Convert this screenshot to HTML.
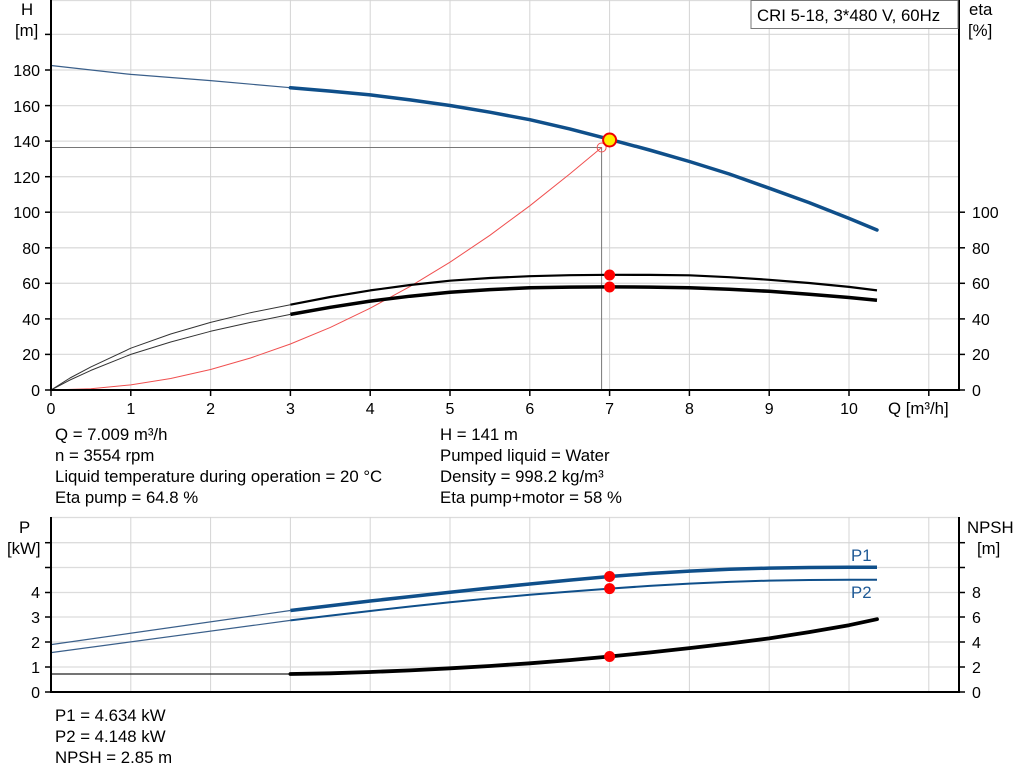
<!DOCTYPE html>
<html><head><meta charset="utf-8"><style>
body{margin:0;background:#fff;width:1024px;height:781px;overflow:hidden}
svg{display:block}
text{font-family:"Liberation Sans",Arial,sans-serif;font-size:16.8px;fill:#000}
.t text{font-size:16px}
.g{stroke:#dcdcdc;stroke-width:1.3}
.gv{stroke:#d4d4d4;stroke-width:1}
.ax{stroke:#000;stroke-width:2;fill:none}
</style></head><body>
<svg width="1024" height="781" viewBox="0 0 1024 781">
<g>
<line class="g" x1="51" x2="959" y1="354.4" y2="354.4"/>
<line class="g" x1="51" x2="959" y1="318.9" y2="318.9"/>
<line class="g" x1="51" x2="959" y1="283.3" y2="283.3"/>
<line class="g" x1="51" x2="959" y1="247.8" y2="247.8"/>
<line class="g" x1="51" x2="959" y1="212.2" y2="212.2"/>
<line class="g" x1="51" x2="959" y1="176.7" y2="176.7"/>
<line class="g" x1="51" x2="959" y1="141.1" y2="141.1"/>
<line class="g" x1="51" x2="959" y1="105.6" y2="105.6"/>
<line class="g" x1="51" x2="959" y1="70" y2="70"/>
<line class="g" x1="51" x2="959" y1="34.4" y2="34.4"/>
<line class="g" x1="51" x2="959" y1="0.5" y2="0.5"/>
<line class="gv" x1="130.8" x2="130.8" y1="0" y2="390"/>
<line class="gv" x1="210.6" x2="210.6" y1="0" y2="390"/>
<line class="gv" x1="290.4" x2="290.4" y1="0" y2="390"/>
<line class="gv" x1="370.2" x2="370.2" y1="0" y2="390"/>
<line class="gv" x1="450" x2="450" y1="0" y2="390"/>
<line class="gv" x1="529.8" x2="529.8" y1="0" y2="390"/>
<line class="gv" x1="609.6" x2="609.6" y1="0" y2="390"/>
<line class="gv" x1="689.4" x2="689.4" y1="0" y2="390"/>
<line class="gv" x1="769.2" x2="769.2" y1="0" y2="390"/>
<line class="gv" x1="849" x2="849" y1="0" y2="390"/>
<line class="gv" x1="928.8" x2="928.8" y1="0" y2="390"/>
</g>
<polyline points="51,147.5 601.6,147.5 601.6,390" fill="none" stroke="#777" stroke-width="1"/>
<polyline fill="none" stroke="#f05050" stroke-width="1" points="51,390 90.9,388.7 130.8,384.9 170.7,378.5 210.6,369.5 250.5,358 290.4,344 330.3,327.4 370.2,308.2 410.1,286.4 450,262.2 489.9,235.3 529.8,205.8 569.7,174 601.6,147.5"/>
<circle cx="601.6" cy="147.5" r="4.5" fill="none" stroke="#f05050" stroke-width="1"/>
<polyline fill="none" stroke="#3a5f8a" stroke-width="1.2" points="51,65.5 130.8,74.4 210.6,80.6 290.4,87.7"/>
<polyline fill="none" stroke="#0f4f8a" stroke-width="3.5" stroke-linecap="round" stroke-linejoin="round" points="290.4,87.7 330.3,91.1 370.2,94.9 410.1,99.9 450,105.5 489.9,112.2 529.8,119.7 569.7,128.9 609.6,139.3 649.5,150 689.4,161.5 729.3,174 769.2,188.2 809.1,202.6 849,218.4 877,230"/>
<polyline fill="none" stroke="#333" stroke-width="1" stroke-linejoin="round" points="51,390 70,378 90.9,366.9 130.8,348.2 170.7,334 210.6,322.4 250.5,312.7 290.4,304.7"/>
<polyline fill="none" stroke="#000" stroke-width="2.2" stroke-linejoin="round" points="290.4,304.7 330.3,297 370.2,290.4 410.1,285 450,280.7 489.9,278 529.8,276.2 569.7,275.2 609.6,274.8 649.5,274.9 689.4,275.3 729.3,277.2 769.2,279.8 809.1,283 849,286.9 877,290.4"/>
<polyline fill="none" stroke="#333" stroke-width="1" stroke-linejoin="round" points="51,390 70,380 90.9,370.4 130.8,354.4 170.7,342 210.6,331.3 250.5,322.4 290.4,314.4"/>
<polyline fill="none" stroke="#000" stroke-width="3.5" stroke-linejoin="round" points="290.4,314.4 330.3,307.3 370.2,301.1 410.1,296.2 450,292.2 489.9,289.6 529.8,287.8 569.7,287.1 609.6,286.9 649.5,287.1 689.4,287.8 729.3,289.3 769.2,291.3 809.1,294.2 849,297.5 877,300.2"/>
<circle cx="609.6" cy="275" r="5.5" fill="#f00"/>
<circle cx="609.6" cy="287" r="5.5" fill="#f00"/>
<circle cx="609.6" cy="140" r="6.5" fill="#ffee00" stroke="#e00" stroke-width="2"/>
<polyline class="ax" points="51,0 51,390 959,390 959,0"/>
<g stroke="#000" stroke-width="1.5">
<line x1="45" x2="51" y1="390" y2="390"/><line x1="45" x2="51" y1="354.4" y2="354.4"/><line x1="45" x2="51" y1="318.9" y2="318.9"/><line x1="45" x2="51" y1="283.3" y2="283.3"/><line x1="45" x2="51" y1="247.8" y2="247.8"/><line x1="45" x2="51" y1="212.2" y2="212.2"/><line x1="45" x2="51" y1="176.7" y2="176.7"/><line x1="45" x2="51" y1="141.1" y2="141.1"/><line x1="45" x2="51" y1="105.6" y2="105.6"/><line x1="45" x2="51" y1="70" y2="70"/><line x1="45" x2="51" y1="34.4" y2="34.4"/>
<line x1="959" x2="965" y1="390" y2="390"/><line x1="959" x2="965" y1="354.4" y2="354.4"/><line x1="959" x2="965" y1="318.9" y2="318.9"/><line x1="959" x2="965" y1="283.3" y2="283.3"/><line x1="959" x2="965" y1="247.8" y2="247.8"/><line x1="959" x2="965" y1="212.2" y2="212.2"/>
<line x1="51" x2="51" y1="390" y2="396"/><line x1="130.8" x2="130.8" y1="390" y2="396"/><line x1="210.6" x2="210.6" y1="390" y2="396"/><line x1="290.4" x2="290.4" y1="390" y2="396"/><line x1="370.2" x2="370.2" y1="390" y2="396"/><line x1="450" x2="450" y1="390" y2="396"/><line x1="529.8" x2="529.8" y1="390" y2="396"/><line x1="609.6" x2="609.6" y1="390" y2="396"/><line x1="689.4" x2="689.4" y1="390" y2="396"/><line x1="769.2" x2="769.2" y1="390" y2="396"/><line x1="849" x2="849" y1="390" y2="396"/><line x1="928.8" x2="928.8" y1="390" y2="396"/>
</g>
<g class="t">
<g text-anchor="end">
<text x="40" y="396">0</text><text x="40" y="360">20</text><text x="40" y="325">40</text><text x="40" y="289">60</text><text x="40" y="254">80</text><text x="40" y="218">100</text><text x="40" y="183">120</text><text x="40" y="147">140</text><text x="40" y="112">160</text><text x="40" y="76">180</text>
</g>
<g>
<text x="972" y="396">0</text><text x="972" y="360">20</text><text x="972" y="325">40</text><text x="972" y="289">60</text><text x="972" y="254">80</text><text x="972" y="218">100</text>
</g>
<g text-anchor="middle">
<text x="51" y="414">0</text><text x="130.8" y="414">1</text><text x="210.6" y="414">2</text><text x="290.4" y="414">3</text><text x="370.2" y="414">4</text><text x="450" y="414">5</text><text x="529.8" y="414">6</text><text x="609.6" y="414">7</text><text x="689.4" y="414">8</text><text x="769.2" y="414">9</text><text x="849" y="414">10</text>
</g>
</g>
<text x="888" y="414">Q [m³/h]</text>
<text x="21" y="15">H</text><text x="15" y="36">[m]</text>
<text x="969" y="15">eta</text><text x="968" y="36">[%]</text>
<rect x="751" y="0.5" width="207" height="28" fill="#fff" stroke="#777" stroke-width="1"/>
<text x="757" y="21">CRI 5-18, 3*480 V, 60Hz</text>
<text x="55" y="440">Q = 7.009 m³/h</text>
<text x="55" y="461">n = 3554 rpm</text>
<text x="55" y="482">Liquid temperature during operation = 20 °C</text>
<text x="55" y="503">Eta pump = 64.8 %</text>
<text x="440" y="440">H = 141 m</text>
<text x="440" y="461">Pumped liquid = Water</text>
<text x="440" y="482">Density = 998.2 kg/m³</text>
<text x="440" y="503">Eta pump+motor = 58 %</text>

<g>
<line class="g" x1="51" x2="959" y1="667" y2="667"/>
<line class="g" x1="51" x2="959" y1="642" y2="642"/>
<line class="g" x1="51" x2="959" y1="617" y2="617"/>
<line class="g" x1="51" x2="959" y1="592.5" y2="592.5"/>
<line class="g" x1="51" x2="959" y1="567.5" y2="567.5"/>
<line class="g" x1="51" x2="959" y1="542.7" y2="542.7"/>
<line class="g" x1="51" x2="959" y1="517.5" y2="517.5"/>
<line class="gv" x1="130.8" x2="130.8" y1="517" y2="692"/>
<line class="gv" x1="210.6" x2="210.6" y1="517" y2="692"/>
<line class="gv" x1="290.4" x2="290.4" y1="517" y2="692"/>
<line class="gv" x1="370.2" x2="370.2" y1="517" y2="692"/>
<line class="gv" x1="450" x2="450" y1="517" y2="692"/>
<line class="gv" x1="529.8" x2="529.8" y1="517" y2="692"/>
<line class="gv" x1="609.6" x2="609.6" y1="517" y2="692"/>
<line class="gv" x1="689.4" x2="689.4" y1="517" y2="692"/>
<line class="gv" x1="769.2" x2="769.2" y1="517" y2="692"/>
<line class="gv" x1="849" x2="849" y1="517" y2="692"/>
<line class="gv" x1="928.8" x2="928.8" y1="517" y2="692"/>
</g>
<polyline fill="none" stroke="#3a5f8a" stroke-width="1.2" points="51,644.6 290.4,610.5"/>
<polyline fill="none" stroke="#0f4f8a" stroke-width="3.5" stroke-linejoin="round" points="290.4,610.5 330.3,605.7 370.2,601 410.1,596.6 450,592.3 489.9,588 529.8,584 569.7,580.1 609.6,576.5 649.5,573.5 689.4,571.1 729.3,569.3 769.2,568.1 809.1,567.5 849,567.3 877,567.3"/>
<polyline fill="none" stroke="#3a5f8a" stroke-width="1.2" points="51,652.6 290.4,620.4"/>
<polyline fill="none" stroke="#0f4f8a" stroke-width="2" stroke-linejoin="round" points="290.4,620.4 330.3,615.6 370.2,611 410.1,606.5 450,602.3 489.9,598.4 529.8,594.8 569.7,591.6 609.6,588.6 649.5,585.9 689.4,583.6 729.3,581.9 769.2,580.6 809.1,580 849,579.8 877,579.8"/>
<polyline fill="none" stroke="#222" stroke-width="1.2" points="51,674 290.4,674"/>
<polyline fill="none" stroke="#000" stroke-width="3.8" stroke-linecap="round" stroke-linejoin="round" points="290.4,674 330.3,673.3 370.2,672 410.1,670.4 450,668.3 489.9,666 529.8,663.3 569.7,660.1 609.6,656.5 649.5,652.5 689.4,648.1 729.3,643.5 769.2,638.4 809.1,632.1 849,625.2 877,619.2"/>
<circle cx="609.6" cy="576.5" r="5.5" fill="#f00"/>
<circle cx="609.6" cy="588.6" r="5.5" fill="#f00"/>
<circle cx="609.6" cy="656.5" r="5.5" fill="#f00"/>
<text x="851" y="561" style="fill:#1f5a96">P1</text>
<text x="851" y="598" style="fill:#1f5a96">P2</text>
<polyline class="ax" points="51,517 51,692 959,692 959,517"/>
<g stroke="#000" stroke-width="1.5">
<line x1="45" x2="51" y1="692" y2="692"/><line x1="45" x2="51" y1="667" y2="667"/><line x1="45" x2="51" y1="642" y2="642"/><line x1="45" x2="51" y1="617" y2="617"/><line x1="45" x2="51" y1="592.5" y2="592.5"/><line x1="45" x2="51" y1="567.5" y2="567.5"/><line x1="45" x2="51" y1="542.7" y2="542.7"/>
<line x1="959" x2="965" y1="692" y2="692"/><line x1="959" x2="965" y1="667" y2="667"/><line x1="959" x2="965" y1="642" y2="642"/><line x1="959" x2="965" y1="617" y2="617"/><line x1="959" x2="965" y1="592.5" y2="592.5"/><line x1="959" x2="965" y1="567.5" y2="567.5"/><line x1="959" x2="965" y1="542.7" y2="542.7"/>
</g>
<g class="t">
<g text-anchor="end">
<text x="40" y="698">0</text><text x="40" y="673">1</text><text x="40" y="648">2</text><text x="40" y="623">3</text><text x="40" y="598">4</text>
</g>
<g>
<text x="972" y="698">0</text><text x="972" y="673">2</text><text x="972" y="648">4</text><text x="972" y="623">6</text><text x="972" y="598">8</text>
</g>
</g>
<text x="19" y="533">P</text><text x="7" y="554">[kW]</text>
<text x="967" y="533">NPSH</text><text x="977" y="554">[m]</text>
<text x="55" y="721">P1 = 4.634 kW</text>
<text x="55" y="742">P2 = 4.148 kW</text>
<text x="55" y="763">NPSH = 2.85 m</text>
</svg>
</body></html>
